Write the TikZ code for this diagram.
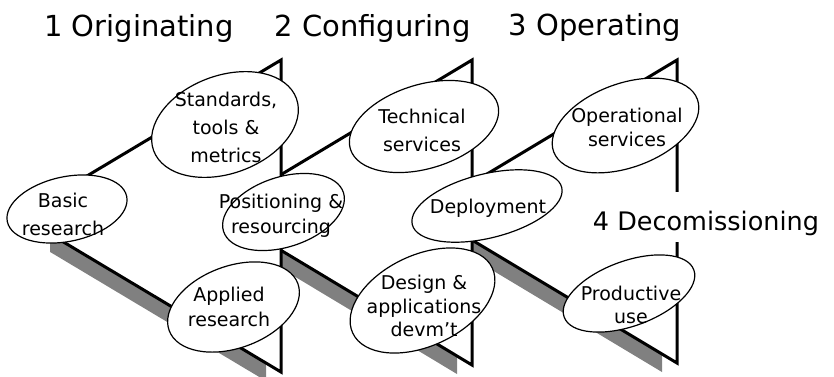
\documentclass[tikz,border=0pt]{standalone}
\usepackage{fontspec}
\setmainfont{DejaVu Sans}
\usetikzlibrary{shapes.geometric,calc}
\definecolor{shadowgray}{RGB}{128,128,128}
\begin{document}
\begin{tikzpicture}[x=1pt,y=-1pt,
  edge/.style={line width=3pt, draw=black, fill=white, line join=miter},
  shadowfill/.style={fill=shadowgray, draw=none},
  bubble/.style={ellipse, draw=black, line width=1.2pt, fill=white, inner sep=0pt},
  txt/.style={align=center, inner sep=0pt},
  heading/.style={font=\fontsize{29}{34}\selectfont, anchor=base, inner sep=0pt}]
\useasboundingbox (0,0) rectangle (834,376);
\clip (0,0) rectangle (834,376);

% triangle corners
\coordinate (T1) at (281,60);  \coordinate (L1) at (20,216);    \coordinate (B1) at (281,372);
\coordinate (T2) at (472,60);  \coordinate (L2) at (218,212.5); \coordinate (B2) at (472,365);
\coordinate (T3) at (677,60);  \coordinate (L3) at (424.5,211.5); \coordinate (B3) at (677,363);

% stage 3
\fill[shadowfill] ($(L3)+(-15,9)$) -- ($(T3)+(-15,9)$) -- ($(B3)+(-15,9)$) -- cycle;
\draw[edge] (T3) -- (L3) -- (B3) -- cycle;
% stage 2
\fill[shadowfill] ($(L2)+(-15,9)$) -- ($(T2)+(-15,9)$) -- ($(B2)+(-15,9)$) -- cycle;
\draw[edge] (T2) -- (L2) -- (B2) -- cycle;
% stage 1
\coordinate (S1a) at (50,198.1); \coordinate (S1b) at (50,251.9);
\fill[shadowfill] (S1a) -- ($(T1)+(-15,9)$) -- ($(B1)+(-15,9)$) -- (S1b) -- cycle;
\draw[edge] (T1) -- (L1) -- (B1) -- cycle;

% bubbles
\node[bubble, minimum width=122pt, minimum height=64.6pt, rotate=12] (e1) at (67,209) {};
\node[bubble, minimum width=152pt, minimum height=98pt, rotate=20] (e2) at (225,124.5) {};
\node[bubble, minimum width=126pt, minimum height=70pt, rotate=18] (e3) at (283.5,212) {};
\node[bubble, minimum width=137pt, minimum height=82pt, rotate=20] (e4) at (233.5,307) {};
\node[bubble, minimum width=154pt, minimum height=84pt, rotate=17] (e5) at (424,126.5) {};
\node[bubble, minimum width=154pt, minimum height=64pt, rotate=14] (e6) at (487,206) {};
\node[bubble, minimum width=154pt, minimum height=91pt, rotate=25] (e7) at (422.5,300.5) {};
\node[bubble, minimum width=153pt, minimum height=84pt, rotate=20] (e8) at (625.5,125.5) {};
\node[bubble, minimum width=138pt, minimum height=65pt, rotate=20] (e9) at (629,293.5) {};

% bubble texts
\node[txt, font=\fontsize{19}{28}\selectfont] (t1) at (63,214.5) {Basic\\research};
\node[txt, font=\fontsize{19}{28}\selectfont] (t2) at (226,127) {Standards,\\tools \&\\metrics};
\node[txt, font=\fontsize{19}{25}\selectfont] (t3) at (281,215.5) {Positioning \&\\resourcing};
\node[txt, font=\fontsize{19}{25}\selectfont] (t4) at (229,307) {Applied\\research};
\node[txt, font=\fontsize{19}{28}\selectfont] (t5) at (422,130) {Technical\\services};
\node[txt, font=\fontsize{19}{24}\selectfont, anchor=base] (t6) at (488,213) {Deployment};
\node[txt, font=\fontsize{19}{23.5}\selectfont] (t7) at (424,306) {Design \&\\applications\\devm't};
\node[txt, font=\fontsize{19}{24}\selectfont] (t8) at (627,127.5) {Operational\\services};
\node[txt, font=\fontsize{19}{23}\selectfont] (t9) at (631,304.5) {Productive\\use};

% headings
\node[heading] (h1) at (139,36) {1 Originating};
\node[heading] (h2) at (372.5,36) {2 Configuring};
\node[heading] (h3) at (595,35) {3 Operating};
\node[heading, font=\fontsize{25.5}{30}\selectfont, fill=white, text height=38pt, text depth=12pt, inner xsep=3pt] (h4) at (706,230) {4 Decomissioning};
\end{tikzpicture}
\end{document}
